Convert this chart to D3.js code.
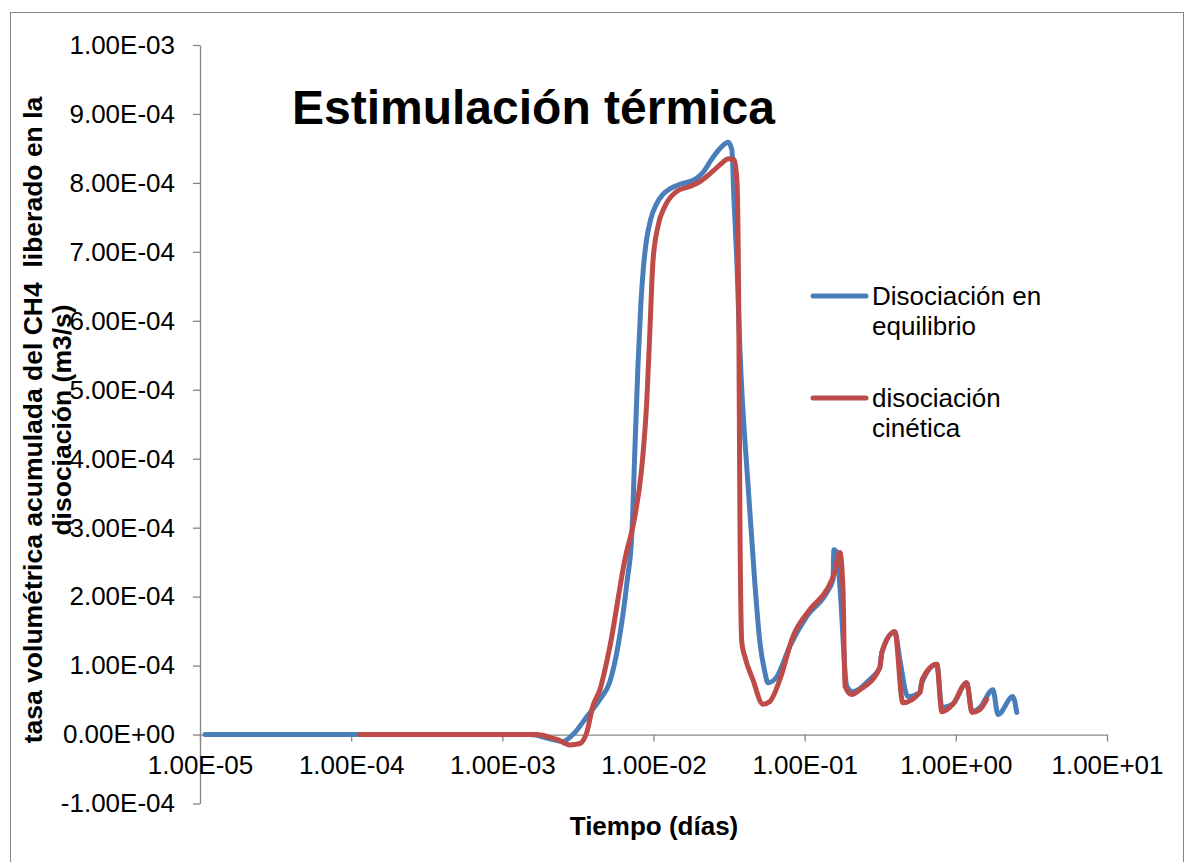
<!DOCTYPE html>
<html><head><meta charset="utf-8">
<script src="https://cdn.jsdelivr.net/npm/d3@7"></script>
<style>
html,body{margin:0;padding:0;background:#fff;}
svg{display:block;font-family:"Liberation Sans",Arial,sans-serif;}
</style></head>
<body>
<svg id="chart" width="1188" height="862"></svg>
<script>
// ---- data ----
const title = "Estimulación térmica";
const xTitle = "Tiempo (días)";
const yTitleLines = ["tasa volumétrica acumulada del CH4  liberado en la", "disociación (m3/s)"];
const seriesNames = ["Disociación en equilibrio", "disociación cinética"];
const legendLines = [["Disociación en", "equilibrio"], ["disociación", "cinética"]];
const xTickValues = [1e-5, 1e-4, 1e-3, 1e-2, 1e-1, 1, 10];
const yTickValues = [-1e-4, 0, 1e-4, 2e-4, 3e-4, 4e-4, 5e-4, 6e-4, 7e-4, 8e-4, 9e-4, 1e-3];

const equilibrioT = [1.08e-5,1.52e-3,2.06e-3,2.52e-3,2.93e-3,3.63e-3,4.42e-3,5.15e-3,5.82e-3,6.67e-3,7.20e-3,7.53e-3,7.89e-3,8.25e-3,8.60e-3,9.00e-3,9.60e-3,1.05e-2,1.15e-2,1.30e-2,1.50e-2,1.88e-2,2.12e-2,2.47e-2,2.84e-2,3.11e-2,3.30e-2,3.40e-2,3.56e-2,3.73e-2,4.21e-2,4.68e-2,5.06e-2,5.46e-2,5.71e-2,6.55e-2,7.98e-2,0.103,0.140,0.154,0.156,0.163,0.171,0.190,0.208,0.270,0.314,0.324,0.395,0.426,0.482,0.578,0.596,0.749,0.808,0.955,1.18,1.28,1.44,1.76,1.90,2.38,2.53];
const equilibrioV = [0,0,-0.06e-4,-0.10e-4,0,0.26e-4,0.51e-4,0.77e-4,1.28e-4,2.20e-4,2.93e-4,4.13e-4,5.34e-4,6.25e-4,6.80e-4,7.18e-4,7.48e-4,7.70e-4,7.83e-4,7.92e-4,7.98e-4,8.05e-4,8.15e-4,8.37e-4,8.53e-4,8.59e-4,8.48e-4,7.80e-4,6.85e-4,5.58e-4,3.65e-4,2.20e-4,1.33e-4,0.90e-4,0.75e-4,0.84e-4,1.28e-4,1.71e-4,2.06e-4,2.25e-4,2.68e-4,2.64e-4,2.15e-4,0.70e-4,0.62e-4,0.80e-4,0.97e-4,1.19e-4,1.49e-4,1.09e-4,0.55e-4,0.61e-4,0.75e-4,1.02e-4,0.39e-4,0.44e-4,0.75e-4,0.33e-4,0.39e-4,0.65e-4,0.29e-4,0.55e-4,0.32e-4];

const cineticaT = [1.14e-4,1.69e-3,2.06e-3,2.30e-3,2.80e-3,3.26e-3,3.63e-3,3.97e-3,4.42e-3,5.15e-3,6.47e-3,7.53e-3,8.38e-3,9.04e-3,9.47e-3,9.91e-3,1.07e-2,1.19e-2,1.43e-2,1.74e-2,2.03e-2,2.47e-2,2.88e-2,3.11e-2,3.40e-2,3.56e-2,3.67e-2,3.73e-2,3.84e-2,4.02e-2,4.54e-2,5.29e-2,5.89e-2,6.86e-2,8.36e-2,0.108,0.140,0.158,0.171,0.179,0.185,0.205,0.232,0.314,0.324,0.395,0.446,0.578,0.600,0.749,0.808,0.955,1.18,1.28,1.44,1.60];
const cineticaV = [0,0,-0.04e-4,-0.07e-4,-0.15e-4,-0.13e-4,0.04e-4,0.41e-4,0.65e-4,1.28e-4,2.54e-4,3.16e-4,3.89e-4,4.86e-4,5.87e-4,6.85e-4,7.37e-4,7.66e-4,7.88e-4,7.95e-4,8.02e-4,8.17e-4,8.30e-4,8.35e-4,8.34e-4,8.05e-4,5.92e-4,3.12e-4,1.33e-4,1.13e-4,0.80e-4,0.44e-4,0.48e-4,0.80e-4,1.42e-4,1.81e-4,2.10e-4,2.35e-4,2.64e-4,2.15e-4,0.70e-4,0.58e-4,0.65e-4,0.97e-4,1.19e-4,1.49e-4,0.46e-4,0.61e-4,0.80e-4,1.02e-4,0.33e-4,0.44e-4,0.75e-4,0.32e-4,0.36e-4,0.51e-4];

const colors = ["#4A7EBB", "#BE4B48"];

// ---- layout ----
const svg = d3.select("#chart");
const plot = {left: 200, right: 1107, top: 45, bottom: 803.5};
const axisColor = "#868686";
const FONT = 26;

const x = d3.scaleLog().domain([1e-5, 10]).range([plot.left, plot.right]);
const y = d3.scaleLinear().domain([-1e-4, 1e-3]).range([plot.bottom, plot.top]);

function fmtE(v) {
  if (Math.abs(v) < 1e-12) return "0.00E+00";
  const parts = v.toExponential(2).split("e");
  const e = +parts[1];
  return parts[0] + "E" + (e < 0 ? "-" : "+") + String(Math.abs(e)).padStart(2, "0");
}

// outer border
svg.append("rect").attr("x", 10.5).attr("y", 12.5).attr("width", 1173).attr("height", 870)
  .attr("fill", "none").attr("stroke", axisColor).attr("stroke-width", 1);

// y axis
const yAxis = svg.append("g").attr("transform", `translate(${plot.left},0)`)
  .call(d3.axisLeft(y).tickValues(yTickValues).tickFormat(fmtE).tickSize(7).tickPadding(18).tickSizeOuter(0));
yAxis.select(".domain").attr("stroke", axisColor).attr("stroke-width", 1.3);
yAxis.selectAll(".tick line").attr("stroke", axisColor).attr("stroke-width", 1.3);
yAxis.selectAll(".tick text").attr("fill", "#000").style("font-size", FONT + "px").style("font-family", "'Liberation Sans', Arial, sans-serif");

// x axis at y = 0
const xAxis = svg.append("g").attr("transform", `translate(0,${y(0)})`)
  .call(d3.axisBottom(x).tickValues(xTickValues).tickFormat(fmtE).tickSize(7).tickPadding(14).tickSizeOuter(0));
xAxis.select(".domain").attr("stroke", axisColor).attr("stroke-width", 1.3);
xAxis.selectAll(".tick line").attr("stroke", axisColor).attr("stroke-width", 1.3);
xAxis.selectAll(".tick text").attr("fill", "#000").style("font-size", FONT + "px").style("font-family", "'Liberation Sans', Arial, sans-serif");

// lines
const line = d3.line().x(d => x(d[0])).y(d => y(d[1])).curve(d3.curveMonotoneX);
const series = [
  d3.zip(equilibrioT, equilibrioV),
  d3.zip(cineticaT, cineticaV)
];
series.forEach((s, i) => {
  svg.append("path").datum(s).attr("d", line)
    .attr("fill", "none").attr("stroke", colors[i]).attr("stroke-width", 5)
    .attr("stroke-linejoin", "round").attr("stroke-linecap", "round");
});

// title
svg.append("text").attr("x", 292).attr("y", 124).text(title)
  .style("font-size", "48px").style("font-weight", "bold").attr("fill", "#000");

// x title
svg.append("text").attr("x", 654).attr("y", 835).attr("text-anchor", "middle").text(xTitle)
  .style("font-size", FONT + "px").style("font-weight", "bold").attr("fill", "#000");

// y title (two lines rotated)
const yt = svg.append("text").attr("transform", "translate(42,420) rotate(-90)")
  .attr("text-anchor", "middle").style("font-size", "26.5px").style("font-weight", "bold")
  .style("white-space", "pre").attr("xml:space", "preserve").attr("fill", "#000");
yTitleLines.forEach((t, i) => {
  yt.append("tspan").attr("x", 0).attr("y", i * 29).text(t);
});

// legend
const legendY = [296, 398];
legendLines.forEach((lines, i) => {
  svg.append("line").attr("x1", 813).attr("x2", 866).attr("y1", legendY[i]).attr("y2", legendY[i])
    .attr("stroke", colors[i]).attr("stroke-width", 5).attr("stroke-linecap", "round");
  const t = svg.append("text").attr("x", 872).attr("y", legendY[i] + 9).style("font-size", FONT + "px").attr("fill", "#000");
  lines.forEach((l, j) => t.append("tspan").attr("x", 872).attr("dy", j === 0 ? 0 : 30).text(l));
});
</script>
</body></html>
